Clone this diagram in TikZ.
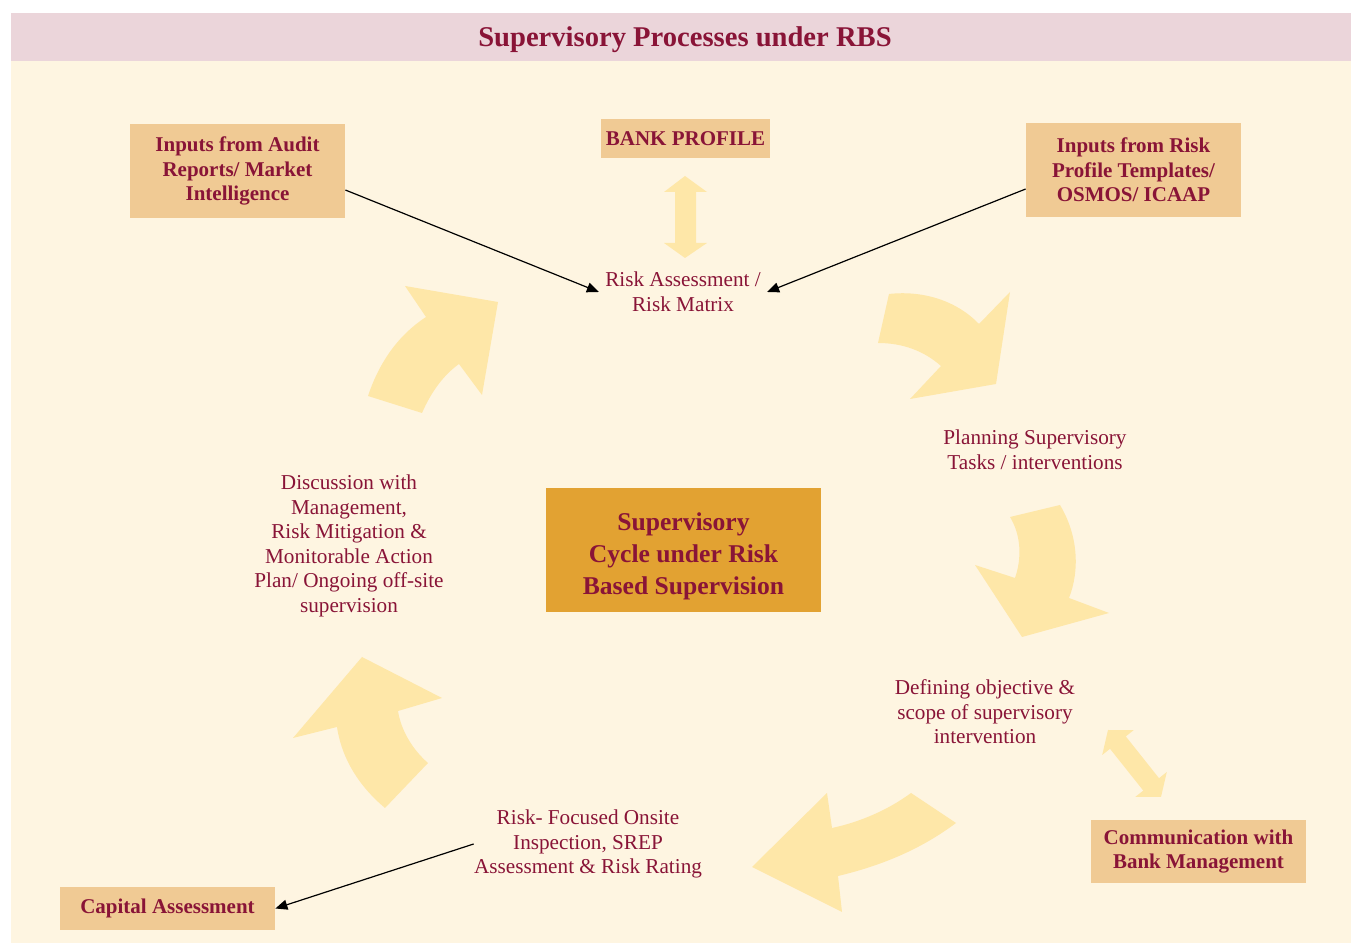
\documentclass[tikz,border=0pt]{standalone}
\usepackage{fontspec}
\setmainfont{Liberation Serif}
\usetikzlibrary{arrows.meta}

\definecolor{rbsmaroon}{RGB}{137,20,55}
\definecolor{rbsband}{RGB}{235,213,218}
\definecolor{rbscream}{RGB}{254,245,225}
\definecolor{rbstan}{RGB}{240,202,148}
\definecolor{rbsgold}{RGB}{226,162,50}
\definecolor{rbsarrow}{RGB}{254,231,168}

\tikzset{
  inbox/.style={fill=rbstan, text=rbsmaroon, align=center, inner sep=0pt,
    font=\bfseries\fontsize{10.5}{12.25}\selectfont},
  steptext/.style={text=rbsmaroon, align=center, inner sep=0pt,
    font=\fontsize{10.6}{12.25}\selectfont},
  cyclearrow/.style={fill=rbsarrow},
  link/.style={draw=black, line width=0.6pt, -{Triangle[length=6pt,width=5pt]}}
}

\begin{document}
\begin{tikzpicture}[x=0.5pt, y=-0.5pt]
    % Background
    \fill[white] (0,0) rectangle (1351,945);
    \fill[rbsband] (11,13) rectangle (1351,61);
    \fill[rbscream] (11,61) rectangle (1351,943);
    \node[text=rbsmaroon, font=\bfseries\fontsize{14.3}{16}\selectfont] (title) at (685,40) {Supervisory Processes under RBS};

    % Cycle arrows
    \fill[cyclearrow] (368,396) -- (422,413) .. controls (432,390) and (445,374) .. (459,364)
        -- (482,395) -- (498,302) -- (405,286) -- (426,317)
        .. controls (400,334) and (380,360) .. (368,396) -- cycle;
    \fill[cyclearrow] (889,294) .. controls (925,290) and (958,302) .. (979,324)
        -- (1010,292) -- (996,384) -- (910,399) -- (941,366)
        .. controls (924,351) and (903,343) .. (878,343) -- cycle;
    \fill[cyclearrow] (1010,517) -- (1060,505) .. controls (1078,535) and (1080,570) .. (1069,598)
        -- (1109,613) -- (1022,637) -- (975,565) -- (1015,578)
        .. controls (1022,558) and (1021,535) .. (1010,517) -- cycle;
    \fill[cyclearrow] (911,793) -- (956,823) .. controls (920,850) and (880,866) .. (838,876)
        -- (842,912) -- (752,867) -- (827,793) -- (832,828)
        .. controls (860,822) and (888,810) .. (911,793) -- cycle;
    \fill[cyclearrow] (385,808) -- (428,763) .. controls (412,749) and (401,730) .. (398,711)
        -- (442,698) -- (362,657) -- (293,738) -- (337,727)
        .. controls (342,760) and (360,787) .. (385,808) -- cycle;

    % Double arrows
    \fill[cyclearrow] (685,176) -- (707,192) -- (696,192) -- (696,243) -- (707,243) -- (685,258)
        -- (664,243) -- (675,243) -- (675,192) -- (664,192) -- cycle;
    \fill[cyclearrow] (1108,730) -- (1133.6,730.2) -- (1125.8,736.4) -- (1159,778.2) -- (1166.8,772)
        -- (1161,797) -- (1135.4,796.8) -- (1143.3,790.6) -- (1110,748.8) -- (1102.2,755) -- cycle;

    % Boxes
    \node[inbox, minimum width=107.5pt, minimum height=47pt] (audit) at (237.5,171)
        {Inputs from Audit\\Reports/ Market\\Intelligence};
    \node[inbox, minimum width=84.5pt, minimum height=19.5pt] (bank) at (685.5,139) {BANK PROFILE};
    \node[inbox, minimum width=107.5pt, minimum height=47pt] (templ) at (1133.5,170)
        {Inputs from Risk\\Profile Templates/\\OSMOS/ ICAAP};
    \node[inbox, minimum width=107.5pt, minimum height=31.5pt] (comm) at (1198.5,851.5)
        {Communication with\\Bank Management};
    \node[inbox, minimum width=107.5pt, minimum height=21.5pt] (capital) at (167.5,908.5) {Capital Assessment};
    \node[inbox, fill=rbsgold, minimum width=137.5pt, minimum height=62pt,
        font=\bfseries\fontsize{12.8}{16}\selectfont] (cycle) at (683.5,550)
        {\rule{0pt}{15pt}Supervisory\\Cycle under Risk\\Based Supervision};

    % Steps of the cycle
    \node[steptext, inner xsep=3pt] (risk) at (683,292) {Risk Assessment /\\Risk Matrix};
    \node[steptext] (plan) at (1035,450) {Planning Supervisory\\Tasks / interventions};
    \node[steptext] (scope) at (985,712) {Defining objective \&\\scope of supervisory\\intervention};
    \node[steptext] (onsite) at (588,844) {Risk- Focused Onsite\\Inspection, SREP\\Assessment \& Risk Rating};
    \node[steptext] (discuss) at (349,546) {Discussion with\\Management,\\Risk Mitigation \&\\Monitorable Action\\Plan/ Ongoing off-site\\supervision};

    % Links
    \draw[link] (audit.-10) -- (risk.west);
    \draw[link] (templ.190) -- (risk.east);
    \draw[link] (onsite.west) -- (capital.east);
\end{tikzpicture}
\end{document}
